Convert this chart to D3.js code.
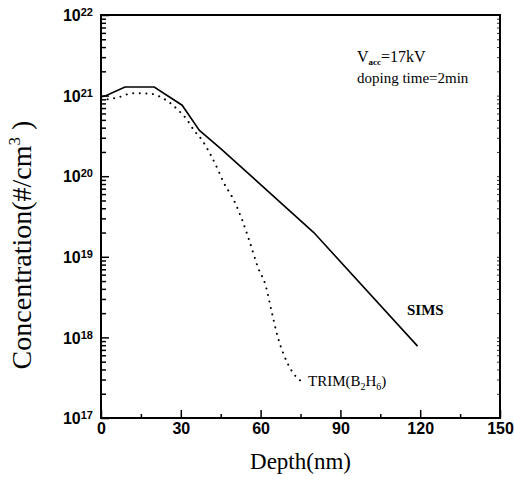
<!DOCTYPE html>
<html>
<head>
<meta charset="utf-8">
<script src="https://cdn.jsdelivr.net/npm/d3@7"></script>
<style>
  body { margin: 0; background: #fff; }
  svg { display: block; }
  .serif { font-family: "Liberation Serif", "Times New Roman", serif; fill: #000; }
  .tick-label { font-family: "Liberation Sans", Arial, sans-serif; font-weight: bold; font-size: 16px; fill: #000; }
</style>
</head>
<body>
<div id="chart"></div>
<script>
// SIMS profile (solid) and TRIM simulation (dotted), depth in nm
const simsDepth = [0, 2, 9, 20, 30.5, 37, 45, 80, 119];
const simsConc = [9.6e20, 1.0e21, 1.28e21, 1.28e21, 7.6e20, 3.7e20, 2.2e20, 2.0e19, 7.8e17];

const trimDepth = [0, 6, 12, 18, 23, 26, 29, 32, 35, 38, 41, 44, 46, 50, 53, 56, 59, 62, 64, 66.5, 69, 72, 75];
const trimConc = [8.8e20, 9.4e20, 1.07e21, 1.06e21, 9.4e20, 8.1e20, 6.6e20, 5.2e20, 3.7e20, 2.8e20, 1.9e20,
  1.2e20, 8.5e19, 5.0e19, 2.9e19, 1.5e19, 7.4e18, 4.3e18, 2.2e18, 1.0e18, 5.8e17, 3.7e17, 2.9e17];

const xTicks = [0, 30, 60, 90, 120, 150];
const xMinor = [15, 45, 75, 105, 135];
const yExp = [17, 18, 19, 20, 21, 22];

const width = 514;
const height = 481;
const plotLeft = 101, plotRight = 500, plotTop = 15, plotBottom = 418;

const svg = d3.select("#chart").append("svg")
  .attr("width", width)
  .attr("height", height);

const xScale = d3.scaleLinear().domain([0, 150]).range([plotLeft, plotRight]);
const yScale = d3.scaleLog().domain([1e17, 1e22]).range([plotBottom, plotTop]);

const yMajor = yExp.map((e) => Math.pow(10, e));
const yMinor = [];
yExp.slice(0, -1).forEach((e) => {
  for (let m = 2; m <= 9; m++) yMinor.push(m * Math.pow(10, e));
});

// bottom axis, ticks pointing inward
const xAxis = svg.append("g")
  .attr("transform", "translate(0," + plotBottom + ")")
  .call(d3.axisBottom(xScale).tickValues(xTicks).tickSize(-8).tickPadding(13));
xAxis.selectAll(".tick text").attr("class", "tick-label").attr("dy", "0.2em");

svg.append("g")
  .attr("transform", "translate(0," + plotBottom + ")")
  .call(d3.axisBottom(xScale).tickValues(xMinor).tickSize(-4).tickFormat(""));

// left axis
const yAxis = svg.append("g")
  .attr("transform", "translate(" + plotLeft + ",0)")
  .call(d3.axisLeft(yScale).tickValues(yMajor).tickSize(-8).tickPadding(10).tickFormat(""));

yAxis.selectAll(".tick").each(function (d) {
  const t = d3.select(this).append("text")
    .attr("class", "tick-label")
    .attr("x", -8)
    .attr("y", 0)
    .attr("dy", "0.35em")
    .attr("text-anchor", "end");
  t.append("tspan").text("10");
  t.append("tspan")
    .attr("dy", "-0.45em")
    .style("font-size", "11px")
    .text(Math.round(Math.log10(d)));
});

svg.append("g")
  .attr("transform", "translate(" + plotLeft + ",0)")
  .call(d3.axisLeft(yScale).tickValues(yMinor).tickSize(-5).tickFormat(""));

// faint ticks on the right edge
svg.append("g")
  .attr("class", "right-ticks")
  .attr("transform", "translate(" + plotRight + ",0)")
  .call(d3.axisRight(yScale).tickValues(yMajor.concat(yMinor)).tickSize(-3).tickFormat(""));

svg.selectAll(".domain").remove();
svg.selectAll(".tick line").attr("stroke", "#000").attr("stroke-width", 1.5);
svg.selectAll(".right-ticks line").attr("stroke-width", 0.8);

// frame
svg.append("rect")
  .attr("x", plotLeft)
  .attr("y", plotTop)
  .attr("width", plotRight - plotLeft)
  .attr("height", plotBottom - plotTop)
  .attr("fill", "none")
  .attr("stroke", "#000")
  .attr("stroke-width", 2);

const line = d3.line()
  .x((d) => xScale(d[0]))
  .y((d) => yScale(d[1]));

svg.append("path")
  .datum(simsDepth.map((d, i) => [d, simsConc[i]]))
  .attr("d", line)
  .attr("fill", "none")
  .attr("stroke", "#000")
  .attr("stroke-width", 1.6);

svg.append("path")
  .datum(trimDepth.map((d, i) => [d, trimConc[i]]))
  .attr("d", line.curve(d3.curveMonotoneX))
  .attr("fill", "none")
  .attr("stroke", "#000")
  .attr("stroke-width", 2)
  .attr("stroke-linecap", "round")
  .attr("stroke-dasharray", "0.1,6.5");

// annotations
const vacc = svg.append("text")
  .attr("class", "serif")
  .attr("x", 357)
  .attr("y", 62)
  .style("font-size", "16px");
vacc.append("tspan").text("V");
vacc.append("tspan").attr("dy", 3).style("font-size", "9px").style("font-weight", "bold").text("acc");
vacc.append("tspan").attr("dy", -3).text("=17kV");

svg.append("text")
  .attr("class", "serif")
  .attr("x", 357)
  .attr("y", 83)
  .style("font-size", "15px")
  .text("doping time=2min");

svg.append("text")
  .attr("class", "serif")
  .attr("x", 407)
  .attr("y", 315)
  .style("font-size", "15px")
  .style("font-weight", "bold")
  .text("SIMS");

const trim = svg.append("text")
  .attr("class", "serif")
  .attr("x", 308)
  .attr("y", 386)
  .style("font-size", "15px");
trim.append("tspan").text("TRIM(B");
trim.append("tspan").attr("dy", 4).style("font-size", "10px").text("2");
trim.append("tspan").attr("dy", -4).text("H");
trim.append("tspan").attr("dy", 4).style("font-size", "10px").text("6");
trim.append("tspan").attr("dy", -4).text(")");

// axis titles
svg.append("text")
  .attr("class", "serif")
  .attr("x", (plotLeft + plotRight) / 2)
  .attr("y", 469)
  .attr("text-anchor", "middle")
  .style("font-size", "23px")
  .text("Depth(nm)");

const yTitle = svg.append("text")
  .attr("class", "serif")
  .attr("transform", "translate(31,245) rotate(-90)")
  .attr("text-anchor", "middle")
  .style("font-size", "28px");
yTitle.append("tspan").text("Concentration(#/cm");
yTitle.append("tspan").attr("dy", -11).style("font-size", "17px").text("3");
yTitle.append("tspan").attr("dy", 11).text(" )");
</script>
</body>
</html>
